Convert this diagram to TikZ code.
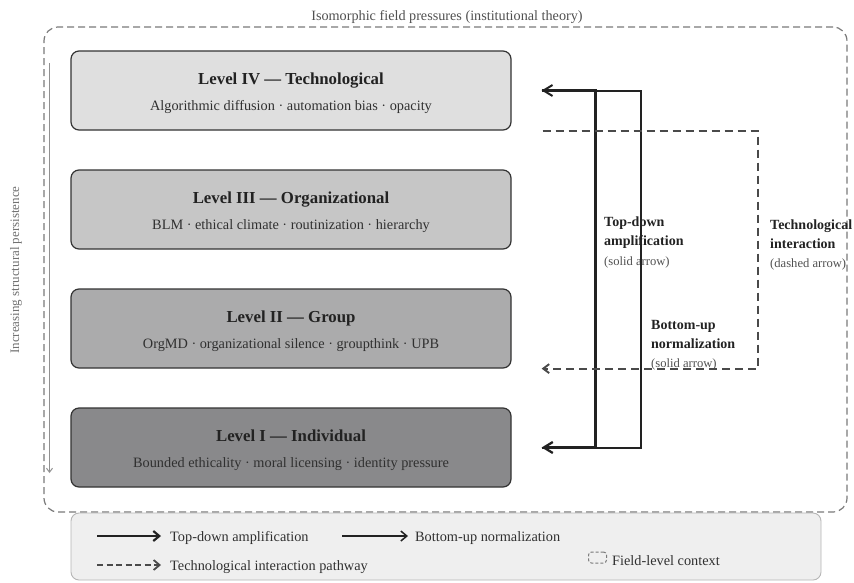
\documentclass[tikz,border=0pt]{standalone}
\usepackage{fontspec}
\setmainfont{Liberation Serif}
\usetikzlibrary{arrows.meta,calc}
\definecolor{txt}{HTML}{222222}
\definecolor{subtxt}{HTML}{303030}
\definecolor{gtxt}{HTML}{505050}
\definecolor{ltxt}{HTML}{707070}
\definecolor{lvfour}{HTML}{DFDFDF}
\definecolor{lvthree}{HTML}{C6C6C6}
\definecolor{lvtwo}{HTML}{ABABAC}
\definecolor{lvone}{HTML}{89898B}
\definecolor{edgec}{HTML}{333333}
\definecolor{fieldc}{HTML}{7A7A7A}
\definecolor{legfill}{HTML}{EFEFEF}
\definecolor{legedge}{HTML}{B5B5B5}
\definecolor{dashc}{HTML}{4A4A4A}
\definecolor{persc}{HTML}{909090}
\newcommand{\fsz}[1]{\fontsize{#1}{#1}\selectfont}
\begin{document}
\begin{tikzpicture}[x=1pt,y=-1pt,
  levelbox/.style={draw=edgec, line width=1.2pt, rounded corners=8pt, minimum width=440pt, minimum height=79pt, inner sep=0pt},
  heading/.style={font=\fsz{16.8}\bfseries, text=txt, anchor=base, inner sep=0pt},
  subline/.style={font=\fsz{14.3}, text=subtxt, anchor=base, inner sep=0pt},
  lblbold/.style={font=\fsz{14}\bfseries, text=txt, anchor=base west, inner sep=0pt},
  lblpar/.style={font=\fsz{12.6}, text=gtxt, anchor=base west, inner sep=0pt},
  legtext/.style={font=\fsz{14.3}, text=subtxt, anchor=base west, inner sep=0pt},
  topdown/.style={draw=txt, line width=2.3pt, -{Straight Barb[length=9pt,width=11pt]}},
  bottomup/.style={draw=txt, line width=2pt, -{Straight Barb[length=9pt,width=11pt]}},
  techdash/.style={draw=dashc, line width=1.9pt, dash pattern=on 8pt off 5pt, -{Straight Barb[length=6pt,width=9pt]}},
  fieldbox/.style={draw=fieldc, line width=1.2pt, dash pattern=on 7pt off 4pt, rounded corners=14pt, minimum width=803pt, minimum height=485pt, inner sep=0pt},
  legbox/.style={draw=legedge, fill=legfill, line width=0.9pt, rounded corners=8pt, minimum width=750pt, minimum height=67pt, inner sep=0pt}
]
\useasboundingbox (0,0) rectangle (854,582);

% field-level context
\node[fieldbox] (field) at (445.5,269.5) {};
\node[font=\fsz{14.2}, text=gtxt, anchor=base, inner sep=0pt] (fieldtitle) at (447,20) {Isomorphic field pressures (institutional theory)};

% persistence axis
\node[font=\fsz{13}, text=ltxt, rotate=90, inner sep=0pt] (perslbl) at (16,270) {Increasing structural persistence};
\coordinate (persA) at (49.5,63);
\coordinate (persB) at (49.5,473);
\draw[draw=persc, line width=1pt, -{Straight Barb[length=4pt,width=6pt]}] (persA) -- (persB);

% levels
\node[levelbox, fill=lvfour] (lv4) at (291,90.5) {};
\node[heading] (lv4h) at ($(lv4.center)+(0,-6)$) {Level IV — Technological};
\node[subline] (lv4s) at ($(lv4.center)+(0,19.5)$) {Algorithmic diffusion · automation bias · opacity};

\node[levelbox, fill=lvthree] (lv3) at (291,209.5) {};
\node[heading] (lv3h) at ($(lv3.center)+(0,-6)$) {Level III — Organizational};
\node[subline] (lv3s) at ($(lv3.center)+(0,19.5)$) {BLM · ethical climate · routinization · hierarchy};

\node[levelbox, fill=lvtwo] (lv2) at (291,328.5) {};
\node[heading] (lv2h) at ($(lv2.center)+(0,-6)$) {Level II — Group};
\node[subline] (lv2s) at ($(lv2.center)+(0,19.5)$) {OrgMD · organizational silence · groupthink · UPB};

\node[levelbox, fill=lvone] (lv1) at (291,447.5) {};
\node[heading] (lv1h) at ($(lv1.center)+(0,-6)$) {Level I — Individual};
\node[subline] (lv1s) at ($(lv1.center)+(0,19.5)$) {Bounded ethicality · moral licensing · identity pressure};

% labels
\node[lblbold] (tdl1) at (604,226) {Top-down};
\node[lblbold] (tdl2) at (604,245) {amplification};
\node[lblpar] (tdl3) at (604,265) {(solid arrow)};
\node[lblbold] (bul1) at (651,329) {Bottom-up};
\node[lblbold] (bul2) at (651,348) {normalization};
\node[lblpar] (bul3) at (651,367) {(solid arrow)};
\node[lblbold] (tel1) at (770,229) {Technological};
\node[lblbold] (tel2) at (770,248) {interaction};
\node[lblpar] (tel3) at (770,267) {(dashed arrow)};

% connector points
\coordinate (in4) at ($(lv4.east)+(30,0)$);
\coordinate (in1) at ($(lv1.east)+(30,0)$);
\coordinate (tdTop) at ($(lv4.east)+(84,0)$);
\coordinate (tdBot) at ($(lv1.east)+(84,0)$);
\coordinate (buTop) at ($(lv4.east)+(129,0)$);
\coordinate (buBot) at ($(lv1.east)+(129,0)$);
\coordinate (d4) at ($(lv4.south east)+(31,0)$);
\coordinate (dR4) at ($(lv4.south east)+(246,0)$);
\coordinate (dR2) at ($(lv2.south east)+(246,0)$);
\coordinate (d2) at ($(lv2.south east)+(30,0)$);

\draw[bottomup] (in1) -- (buBot) -- (buTop) -- (in4);
\draw[topdown] (in4) -- (tdTop) -- (tdBot) -- (in1);
\draw[techdash] (d4) -- (dR4) -- (dR2) -- (d2);

% legend
\node[legbox] (legend) at (446,546.5) {};
\coordinate (lgA1) at (97,536);
\coordinate (lgA2) at (161,536);
\draw[draw=txt, line width=2.2pt, -{Straight Barb[length=6pt,width=10pt]}] (lgA1) -- (lgA2);
\node[legtext] (lgT1) at (170,541) {Top-down amplification};
\coordinate (lgB1) at (342,536);
\coordinate (lgB2) at (408,536);
\draw[draw=txt, line width=1.5pt, -{Straight Barb[length=6pt,width=10pt]}] (lgB1) -- (lgB2);
\node[legtext] (lgT2) at (415,541) {Bottom-up normalization};
\coordinate (lgC1) at (97,565);
\coordinate (lgC2) at (161,565);
\draw[draw=dashc, line width=1.8pt, dash pattern=on 6pt off 3.5pt, -{Straight Barb[length=6pt,width=10pt]}] (lgC1) -- (lgC2);
\node[legtext] (lgT3) at (170,570) {Technological interaction pathway};
\node[draw=fieldc, line width=1pt, dash pattern=on 3pt off 2pt, rounded corners=3pt, minimum width=18pt, minimum height=11pt, inner sep=0pt] (lgIcon) at (597.5,557.5) {};
\node[legtext] (lgT4) at (612,565) {Field-level context};
\end{tikzpicture}
\end{document}
